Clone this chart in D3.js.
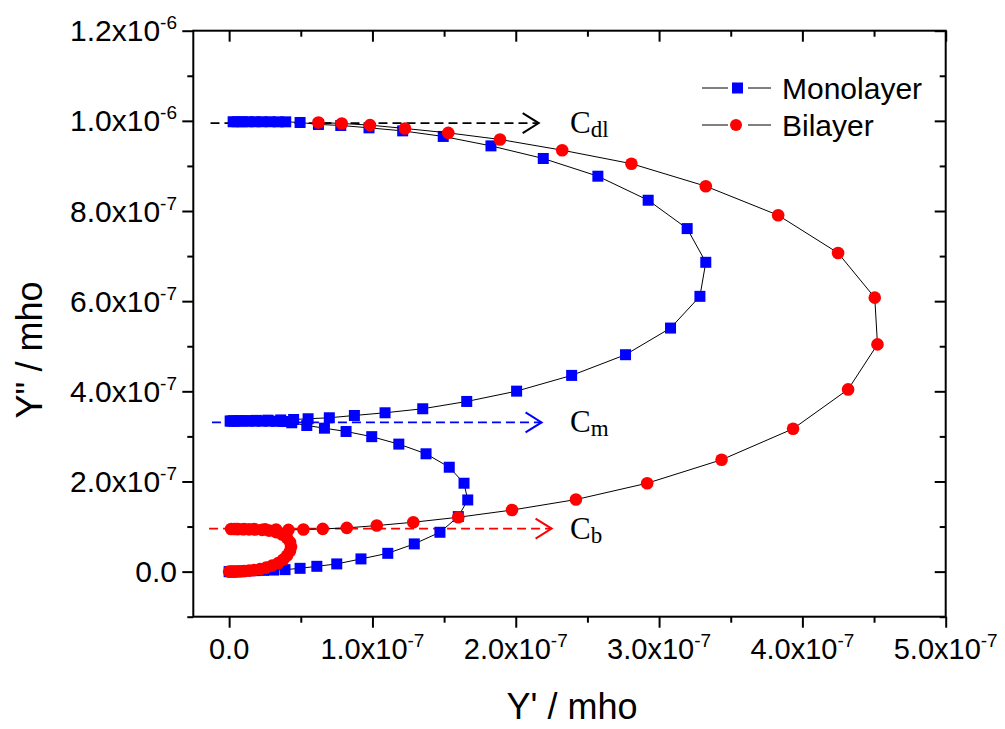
<!DOCTYPE html>
<html>
<head>
<meta charset="utf-8">
<script src="https://cdn.jsdelivr.net/npm/d3@7"></script>
<style>
  body { margin: 0; background: #fff; }
  svg { display: block; }
  text { font-family: "Liberation Sans", Arial, sans-serif; fill: #000; }
</style>
</head>
<body>
<svg id="chart"></svg>
<script>
// all values in units of 1e-7 mho
const monoRe = [0, 0.01, 0.02, 0.04, 0.06, 0.09, 0.13, 0.18, 0.24, 0.31, 0.39, 0.495, 0.612, 0.751, 0.92, 1.107, 1.292, 1.471, 1.599, 1.665, 1.639, 1.536, 1.374, 1.184, 0.995, 0.816, 0.665, 0.542, 0.437,
  0.377, 0.328, 0.279, 0.23, 0.181, 0.139, 0.098, 0.063, 0.035, 0.014, 0.007,
  0.03, 0.07, 0.12, 0.19, 0.27, 0.36, 0.45, 0.551, 0.699, 0.874, 1.088, 1.351, 1.658, 2.006, 2.39, 2.766, 3.08, 3.285, 3.326, 3.196, 2.924, 2.573, 2.192, 1.827, 1.494, 1.211, 0.976, 0.779, 0.623, 0.495, 0.395,
  0.342, 0.286, 0.23, 0.181, 0.132, 0.091, 0.056, 0.028];
const monoIm = [0, 0, 0, 0.005, 0.01, 0.012, 0.017, 0.022, 0.028, 0.035, 0.044, 0.073, 0.118, 0.171, 0.282, 0.406, 0.615, 0.873, 1.221, 1.59, 1.961, 2.316, 2.614, 2.829, 2.994, 3.109, 3.182, 3.242, 3.302,
  3.33, 3.335, 3.338, 3.338, 3.338, 3.34, 3.34, 3.34, 3.34, 3.34, 3.34,
  3.345, 3.35, 3.35, 3.355, 3.36, 3.365, 3.375, 3.391, 3.413, 3.464, 3.524, 3.613, 3.775, 4.004, 4.353, 4.812, 5.403, 6.107, 6.862, 7.61, 8.239, 8.772, 9.165, 9.445, 9.654, 9.778, 9.845, 9.898, 9.92, 9.964, 9.978,
  9.978, 9.98, 9.98, 9.98, 9.98, 9.98, 9.98, 9.98];

const biRe = [0, 0.014, 0.028, 0.049, 0.077, 0.105, 0.139, 0.174, 0.216, 0.258, 0.3, 0.342, 0.377, 0.404, 0.425, 0.432, 0.425, 0.404, 0.37, 0.328, 0.279, 0.23, 0.181, 0.139, 0.098, 0.063, 0.035, 0.014,
  0.049, 0.105, 0.174, 0.251, 0.328, 0.414, 0.518, 0.653, 0.821, 1.03, 1.285, 1.599, 1.974, 2.42, 2.917, 3.436, 3.935, 4.319, 4.524, 4.505, 4.249, 3.831, 3.326, 2.807, 2.324, 1.89, 1.529, 1.227, 0.983, 0.786, 0.623];
const biIm = [0, 0, 0, 0, 0.004, 0.011, 0.022, 0.033, 0.056, 0.089, 0.133, 0.189, 0.266, 0.355, 0.455, 0.555, 0.655, 0.744, 0.822, 0.877, 0.91, 0.926, 0.933, 0.937, 0.939, 0.942, 0.944, 0.944,
  0.946, 0.946, 0.944, 0.939, 0.933, 0.926, 0.933, 0.948, 0.97, 1.022, 1.095, 1.206, 1.366, 1.599, 1.961, 2.481, 3.169, 4.042, 5.041, 6.078, 7.069, 7.906, 8.55, 9.05, 9.349, 9.587, 9.733, 9.831, 9.905, 9.942, 9.964];

const xTicks = [0, 1, 2, 3, 4, 5];
const xMinor = [0.5, 1.5, 2.5, 3.5, 4.5];
const xTickLabels = [["0.0", ""], ["1.0x10", "-7"], ["2.0x10", "-7"], ["3.0x10", "-7"], ["4.0x10", "-7"], ["5.0x10", "-7"]];
const yTicks = [0, 2, 4, 6, 8, 10, 12];
const yMinor = [-1, 1, 3, 5, 7, 9, 11];
const yTickLabels = [["0.0", ""], ["2.0x10", "-7"], ["4.0x10", "-7"], ["6.0x10", "-7"], ["8.0x10", "-7"], ["1.0x10", "-6"], ["1.2x10", "-6"]];

// capacitance markers: level, arrow start / end, colour, label
const capLevel = [9.95, 3.31, 0.955];
const capStart = [-0.13, -0.12, -0.14];
const capEnd = [2.16, 2.18, 2.25];
const capColor = ["#000000", "#0000ff", "#ff0000"];
const capSub = ["dl", "m", "b"];

const seriesNames = ["Monolayer", "Bilayer"];

const W = 1005, H = 729;
const svg = d3.select("#chart").attr("width", W).attr("height", H);

const x = d3.scaleLinear().domain([-0.25, 5]).range([193.3, 945.7]);
const y = d3.scaleLinear().domain([-1, 12]).range([616.7, 30.7]);

const mono = monoRe.map((v, i) => [v, monoIm[i]]);
const bi = biRe.map((v, i) => [v, biIm[i]]);

// ticks
function tickAxis(axis, vals, size, tf) {
  const g = svg.append("g").attr("transform", tf)
    .call(axis.tickValues(vals).tickSize(size).tickFormat(""));
  g.select(".domain").remove();
  g.selectAll(".tick line").attr("stroke", "#000").attr("stroke-width", 2);
  return g;
}
tickAxis(d3.axisLeft(y), yTicks, 11, "translate(193.3,0)");
tickAxis(d3.axisLeft(y), yMinor, 6, "translate(193.3,0)");
tickAxis(d3.axisRight(y), yTicks, -11, "translate(945.7,0)");
tickAxis(d3.axisRight(y), yMinor, -6, "translate(945.7,0)");
tickAxis(d3.axisBottom(x), xTicks, 11, "translate(0,616.7)");
tickAxis(d3.axisBottom(x), xMinor, 6, "translate(0,616.7)");
tickAxis(d3.axisTop(x), xTicks, -11, "translate(0,30.7)");
tickAxis(d3.axisTop(x), xMinor, -6, "translate(0,30.7)");

svg.append("rect")
  .attr("x", x(-0.25)).attr("y", y(12))
  .attr("width", x(5) - x(-0.25)).attr("height", y(-1) - y(12))
  .attr("fill", "none").attr("stroke", "#000").attr("stroke-width", 2);

// tick labels with superscript exponents
function sciLabel(sel, lab) {
  sel.append("tspan").text(lab[0]);
  if (lab[1]) sel.append("tspan").attr("font-size", 19).attr("dy", -12).text(lab[1]);
}
yTicks.forEach((v, i) => {
  const t = svg.append("text").attr("x", 177).attr("y", y(v) + 10.5)
    .attr("text-anchor", "end").attr("font-size", 30);
  sciLabel(t, yTickLabels[i]);
});
xTicks.forEach((v, i) => {
  const t = svg.append("text").attr("x", x(v)).attr("y", 659)
    .attr("text-anchor", "middle").attr("font-size", 29);
  sciLabel(t, xTickLabels[i]);
});

svg.append("text").attr("x", 572).attr("y", 719).attr("text-anchor", "middle")
  .attr("font-size", 36).text("Y' / mho");
svg.append("text").attr("transform", "translate(42,350) rotate(-90)")
  .attr("text-anchor", "middle").attr("font-size", 36).text("Y\" / mho");

// capacitance arrows
capLevel.forEach((lv, i) => {
  const yy = y(lv), x0 = x(capStart[i]), x1 = x(capEnd[i]);
  svg.append("line").attr("x1", x0).attr("x2", x1).attr("y1", yy).attr("y2", yy)
    .attr("stroke", capColor[i]).attr("stroke-width", 1.8).attr("stroke-dasharray", "9,5");
  svg.append("path").attr("d", `M${x1 - 16},${yy - 10}L${x1},${yy}L${x1 - 16},${yy + 10}`)
    .attr("fill", "none").attr("stroke", capColor[i]).attr("stroke-width", 2);
  const t = svg.append("text").attr("x", 570).attr("y", yy + 10)
    .style("font-family", "'Liberation Serif', 'Times New Roman', serif").attr("font-size", 31);
  t.append("tspan").text("C");
  t.append("tspan").attr("font-size", 23).attr("dy", 4).text(capSub[i]);
});

const line = d3.line().x(d => x(d[0])).y(d => y(d[1]));

// monolayer
svg.append("path").attr("d", line(mono)).attr("fill", "none")
  .attr("stroke", "#000").attr("stroke-width", 1);
svg.append("g").selectAll("rect").data(mono).join("rect")
  .attr("x", d => x(d[0]) - 5.5).attr("y", d => y(d[1]) - 5.5)
  .attr("width", 11).attr("height", 11).attr("fill", "#0000ff");

// bilayer
svg.append("path").attr("d", line(bi)).attr("fill", "none")
  .attr("stroke", "#000").attr("stroke-width", 1);
svg.append("g").selectAll("circle").data(bi).join("circle")
  .attr("cx", d => x(d[0])).attr("cy", d => y(d[1])).attr("r", 6.3)
  .attr("fill", "#ff0000");

// legend
const leg = svg.append("g");
[88, 125].forEach((ly, i) => {
  leg.append("line").attr("x1", 702).attr("x2", 728).attr("y1", ly).attr("y2", ly).attr("stroke", "#000");
  leg.append("line").attr("x1", 748).attr("x2", 771).attr("y1", ly).attr("y2", ly).attr("stroke", "#000");
  if (i === 0) leg.append("rect").attr("x", 732).attr("y", ly - 5.5).attr("width", 11).attr("height", 11).attr("fill", "#0000ff");
  else leg.append("circle").attr("cx", 736).attr("cy", ly).attr("r", 6).attr("fill", "#ff0000");
  leg.append("text").attr("x", 782).attr("y", ly + 11).attr("font-size", 30).text(seriesNames[i]);
});
</script>
</body>
</html>
